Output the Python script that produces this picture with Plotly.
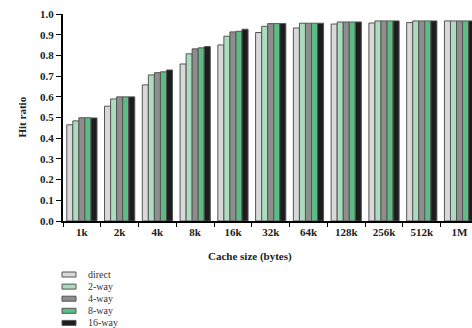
import plotly.graph_objects as go

categories = ["1k", "2k", "4k", "8k", "16k", "32k", "64k", "128k", "256k", "512k", "1M"]
direct = [0.465, 0.555, 0.658, 0.759, 0.851, 0.911, 0.933, 0.952, 0.957, 0.959, 0.967]
way2 = [0.484, 0.590, 0.706, 0.808, 0.893, 0.941, 0.956, 0.962, 0.967, 0.967, 0.967]
way4 = [0.499, 0.600, 0.717, 0.832, 0.914, 0.954, 0.956, 0.962, 0.967, 0.967, 0.967]
way8 = [0.499, 0.600, 0.721, 0.837, 0.917, 0.954, 0.956, 0.962, 0.967, 0.967, 0.967]
way16 = [0.498, 0.600, 0.730, 0.843, 0.927, 0.954, 0.956, 0.962, 0.967, 0.967, 0.967]
y_ticks = [0.0, 0.1, 0.2, 0.3, 0.4, 0.5, 0.6, 0.7, 0.8, 0.9, 1.0]

series_names = ["direct", "2-way", "4-way", "8-way", "16-way"]
series_values = [direct, way2, way4, way8, way16]
series_colors = ["#d9d9d9", "#abdcbd", "#8e8e8e", "#5bbd84", "#1d1d1d"]

FONT = "Liberation Serif"
W, H = 472, 328
ML, MR, MT, MB = 63, 0, 14, 107
PW, PH = W - ML - MR, H - MT - MB


def px_to_paper(x, y):
    return (x - ML) / PW, (H - MB - y) / PH


fig = go.Figure()
for name, vals, col in zip(series_names, series_values, series_colors):
    fig.add_trace(go.Bar(
        x=categories, y=vals, name=name,
        marker=dict(color=col, line=dict(color="#555555", width=1)),
    ))

# compact legend (swatches + labels) below the plot
shapes = []
annotations = []
for i, (name, col) in enumerate(zip(series_names, series_colors)):
    cy = 274.5 + i * 12.1
    x0, y0 = px_to_paper(62, cy - 2.5)
    x1, y1 = px_to_paper(76, cy + 2.5)
    shapes.append(dict(type="rect", xref="paper", yref="paper",
                       x0=x0, x1=x1, y0=y0, y1=y1,
                       fillcolor=col, line=dict(color="#555555", width=1)))
    tx, ty = px_to_paper(86, cy)
    annotations.append(dict(text=name, xref="paper", yref="paper", x=tx, y=ty,
                            xanchor="left", yanchor="middle", showarrow=False,
                            font=dict(family=FONT, size=10, color="#333333")))

ax, ay = px_to_paper(250, 248)
annotations.append(dict(text="Cache size (bytes)", xref="paper", yref="paper",
                        x=ax, y=ay, xanchor="center", yanchor="top", showarrow=False,
                        font=dict(family=FONT, size=11, color="#222222", weight="bold")))
yx, yy = px_to_paper(21, 117.5)
annotations.append(dict(text="Hit ratio", xref="paper", yref="paper",
                        x=yx, y=yy, xanchor="center", yanchor="middle", showarrow=False,
                        textangle=-90,
                        font=dict(family=FONT, size=11, color="#222222", weight="bold")))

fig.update_layout(
    width=W, height=H,
    margin=dict(l=ML, r=MR, t=MT, b=MB, autoexpand=False),
    plot_bgcolor="white", paper_bgcolor="white",
    barmode="group", bargap=0.2, bargroupgap=0,
    font=dict(family=FONT, color="#222222"),
    showlegend=False,
    hovermode=False,
    shapes=shapes,
    annotations=annotations,
    xaxis=dict(
        type="category", range=[-0.5, 10.33], automargin=False,
        showline=True, linecolor="black", linewidth=1.5,
        ticks="outside", tickson="boundaries", ticklen=4, tickcolor="black",
        tickfont=dict(family=FONT, size=11, color="#222222", weight="bold"),
        showgrid=False, zeroline=False,
    ),
    yaxis=dict(
        range=[0, 1.0005], tickmode="array", tickvals=y_ticks,
        ticktext=[f"{v:.1f}" for v in y_ticks], automargin=False,
        showline=True, linecolor="black", linewidth=2,
        ticks="outside", ticklen=5, tickcolor="black",
        tickfont=dict(family=FONT, size=11, color="#222222", weight="bold"),
        showgrid=False, zeroline=False,
    ),
)

fig.write_html(
    "out.html",
    config={"displayModeBar": False, "staticPlot": True},
    post_script="document.body.style.margin='0';document.body.style.overflow='hidden';",
)
